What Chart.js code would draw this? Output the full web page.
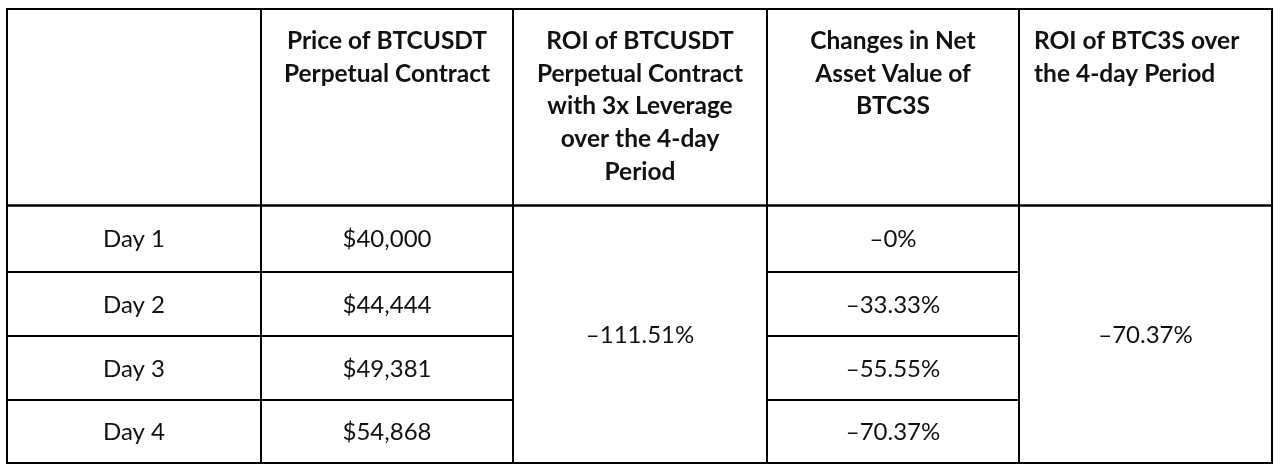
<!DOCTYPE html>
<html>
<head>
<meta charset="utf-8">
<script src="https://cdn.jsdelivr.net/npm/chart.js@4.4.1/dist/chart.umd.min.js"></script>
<style>
  html, body { margin: 0; padding: 0; background: #fff; }
  canvas { display: block; }
</style>
</head>
<body>
<canvas id="tableChart" width="1280" height="474"></canvas>
<script>
// Table content
const headerLines = [
  [],
  ['Price of BTCUSDT', 'Perpetual Contract'],
  ['ROI of BTCUSDT', 'Perpetual Contract', 'with 3x Leverage', 'over the 4-day', 'Period'],
  ['Changes in Net', 'Asset Value of', 'BTC3S'],
  ['ROI of BTC3S over', 'the 4-day Period']
];
const days = ['Day 1', 'Day 2', 'Day 3', 'Day 4'];
const prices = [40000, 44444, 49381, 54868];
const navChanges = [0, -33.33, -55.55, -70.37];
const leveragedRoi = -111.51;
const btc3sRoi = -70.37;

// Grid layout, in scale units
const colWidths = [254, 252, 254, 252, 253];
const rowHeights = [196.5, 66.5, 64, 64, 63];

const cumulative = arr => arr.reduce((acc, w) => { acc.push(acc[acc.length - 1] + w); return acc; }, [0]);
const colEdges = cumulative(colWidths);
const rowEdges = cumulative(rowHeights);

const fmtPrice = v => '$' + v.toLocaleString('en-US');
const fmtPct = v => '\u2013' + Math.abs(v) + '%';

// Build cells (merged cells use rowSpan)
const cells = [];
headerLines.forEach((lines, c) => {
  cells.push({ col: c, row: 0, rowSpan: 1, lines: lines, header: true, align: c === 4 ? 'left' : 'center' });
});
days.forEach((d, i) => {
  cells.push({ col: 0, row: i + 1, rowSpan: 1, lines: [d] });
  cells.push({ col: 1, row: i + 1, rowSpan: 1, lines: [fmtPrice(prices[i])] });
  cells.push({ col: 3, row: i + 1, rowSpan: 1, lines: [fmtPct(navChanges[i])] });
});
cells.push({ col: 2, row: 1, rowSpan: days.length, lines: [fmtPct(leveragedRoi)] });
cells.push({ col: 4, row: 1, rowSpan: days.length, lines: [fmtPct(btc3sRoi)] });

const FONT = 'Lato, "Open Sans", sans-serif';

const tablePlugin = {
  id: 'tableCells',
  afterDraw(chart) {
    const { ctx, scales: { x, y } } = chart;
    ctx.save();
    cells.forEach(cell => {
      const left = x.getPixelForValue(colEdges[cell.col]);
      const right = x.getPixelForValue(colEdges[cell.col + 1]);
      const top = y.getPixelForValue(rowEdges[cell.row]);
      const bottom = y.getPixelForValue(rowEdges[cell.row + cell.rowSpan]);

      ctx.strokeStyle = '#000';
      ctx.lineWidth = 2;
      ctx.strokeRect(left, top, right - left, bottom - top);

      ctx.fillStyle = '#111';
      if (cell.header) {
        ctx.font = 'bold 24.5px ' + FONT;
        ctx.textBaseline = 'alphabetic';
        ctx.textAlign = cell.align;
        const tx = cell.align === 'left' ? left + 15 : (left + right) / 2;
        cell.lines.forEach((line, k) => {
          ctx.fillText(line, tx, top + 40 + k * 32.7);
        });
      } else {
        ctx.font = '24px ' + FONT;
        ctx.textBaseline = 'middle';
        ctx.textAlign = 'center';
        ctx.fillText(cell.lines[0], (left + right) / 2, (top + bottom) / 2 + 1);
      }
    });
    ctx.restore();
  }
};

new Chart(document.getElementById('tableChart').getContext('2d'), {
  type: 'scatter',
  data: { datasets: [] },
  options: {
    responsive: false,
    animation: false,
    layout: { padding: { left: 7, top: 9, right: 8, bottom: 11 } },
    scales: {
      x: { type: 'linear', min: 0, max: colEdges[colEdges.length - 1], display: false },
      y: { type: 'linear', min: 0, max: rowEdges[rowEdges.length - 1], reverse: true, display: false }
    },
    plugins: { legend: { display: false }, tooltip: { enabled: false } }
  },
  plugins: [tablePlugin]
});
</script>
</body>
</html>
